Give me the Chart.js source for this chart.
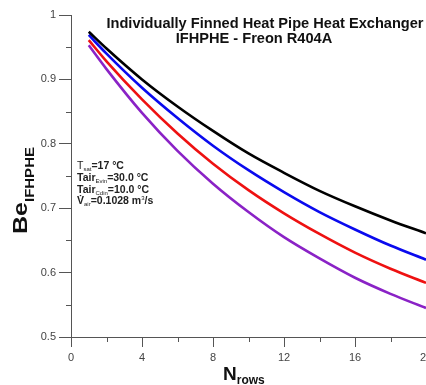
<!DOCTYPE html>
<html>
<head>
<meta charset="utf-8">
<script src="https://cdn.jsdelivr.net/npm/chart.js@4.4.1/dist/chart.umd.min.js"></script>
<style>
  html, body { margin: 0; padding: 0; background: #fff; overflow: hidden; }
  #wrap { position: absolute; left: 0; top: 0; width: 426px; height: 385px; }
</style>
</head>
<body>
<div id="wrap"><canvas id="beChart" width="426" height="385"></canvas></div>
<script>
// N rows and Be values
const rows = [1, 2, 4, 6, 8, 10, 12, 14, 16, 18, 20];
const beBlack = [0.974, 0.948, 0.900, 0.858, 0.820, 0.785, 0.755, 0.727, 0.703, 0.681, 0.661];
const beBlue = [0.969, 0.940, 0.887, 0.840, 0.797, 0.759, 0.725, 0.694, 0.667, 0.642, 0.620];
const beRed = [0.961, 0.928, 0.869, 0.816, 0.769, 0.728, 0.692, 0.660, 0.631, 0.606, 0.584];
const bePurple = [0.953, 0.916, 0.848, 0.789, 0.738, 0.694, 0.655, 0.622, 0.592, 0.567, 0.545];

const xMinorTicks = [2, 6, 10, 14, 18];
const yMinorTicks = [0.55, 0.65, 0.75, 0.85, 0.95];

const titleLines = ["Individually Finned Heat Pipe Heat Exchanger", "IFHPHE - Freon R404A"];
const AXIS = "#555";
const FONT = "'Liberation Sans', Arial, sans-serif";

function pts(ys) {
  return rows.map((r, i) => ({x: r, y: ys[i]}));
}

function ds(ys, color) {
  return {data: pts(ys), borderColor: color, backgroundColor: color, borderWidth: 2.6,
    pointRadius: 0, fill: false, cubicInterpolationMode: "monotone"};
}

// draw a run of text pieces: [text, size, bold, dy]
function runs(ctx, x, y, parts) {
  parts.forEach(p => {
    ctx.font = (p[2] ? "bold " : "") + p[1] + "px " + FONT;
    ctx.fillText(p[0], x, y + (p[3] || 0));
    x += ctx.measureText(p[0]).width;
  });
}

const decor = {
  id: "decor",
  afterDraw(chart) {
    const ctx = chart.ctx;
    const xs = chart.scales.x, ys = chart.scales.y;
    const area = chart.chartArea;
    ctx.save();
    // minor ticks
    ctx.strokeStyle = AXIS;
    ctx.lineWidth = 1;
    ctx.beginPath();
    xMinorTicks.forEach(v => {
      const px = Math.round(xs.getPixelForValue(v)) + 0.5;
      ctx.moveTo(px, area.bottom);
      ctx.lineTo(px, area.bottom + 5);
    });
    yMinorTicks.forEach(v => {
      const py = Math.round(ys.getPixelForValue(v)) + 0.5;
      ctx.moveTo(area.left - 5, py);
      ctx.lineTo(area.left, py);
    });
    ctx.stroke();

    // title inside plot
    ctx.fillStyle = "#111";
    ctx.textAlign = "center";
    ctx.textBaseline = "alphabetic";
    ctx.font = "bold 14.6px " + FONT;
    ctx.fillText(titleLines[0], 265, 28);
    ctx.fillText(titleLines[1], 254, 42.5);

    // conditions block
    ctx.textAlign = "left";
    ctx.fillStyle = "#222";
    runs(ctx, 77, 169, [["T", 10.5, false], ["sat", 6, false, 2], ["=17 °C", 10.5, true]]);
    runs(ctx, 77, 180.5, [["Tair", 10.5, true], ["Evin", 6, false, 2], ["=30.0 °C", 10.5, true]]);
    runs(ctx, 77, 193, [["Tair", 10.5, true], ["Cdin", 6, false, 2], ["=10.0 °C", 10.5, true]]);
    runs(ctx, 77, 204, [["V\u0307", 10.5, true], ["air", 6, false, 2], ["=0.1028 m", 10.5, true], ["3", 6, false, -4], ["/s", 10.5, true]]);

    // axis titles
    ctx.fillStyle = "#111";
    runs(ctx, 223, 380, [["N", 19, true], ["rows", 12, true, 4]]);
    ctx.translate(27, 234);
    ctx.rotate(-Math.PI / 2);
    ctx.scale(1.25, 1);
    runs(ctx, 0, 0, [["Be", 20, true], ["IFHPHE", 12, true, 7]]);
    ctx.restore();
  }
};

new Chart(document.getElementById("beChart"), {
  type: "line",
  data: {
    datasets: [
      ds(beBlack, "#000000"),
      ds(beBlue, "#0a0aee"),
      ds(beRed, "#ee1111"),
      ds(bePurple, "#8a22c6")
    ]
  },
  options: {
    responsive: false,
    animation: false,
    layout: {padding: {top: 15, right: 0, left: 0, bottom: 0}},
    plugins: {legend: {display: false}, tooltip: {enabled: false}},
    scales: {
      x: {
        type: "linear", min: 0, max: 20,
        border: {color: AXIS, width: 1},
        grid: {drawOnChartArea: false, tickLength: 10, color: AXIS},
        ticks: {stepSize: 4, color: "#444", font: {family: FONT, size: 11}, padding: 4, maxRotation: 0},
        afterFit(s) { s.height = 48; s.paddingRight = 0; }
      },
      y: {
        min: 0.5, max: 1,
        border: {color: AXIS, width: 1},
        grid: {drawOnChartArea: false, tickLength: 12, color: AXIS},
        ticks: {stepSize: 0.1, color: "#444", font: {family: FONT, size: 11}, padding: 3,
          callback: v => String(Math.round(v * 10) / 10)},
        afterFit(s) { s.width = 71; }
      }
    }
  },
  plugins: [decor]
});
</script>
</body>
</html>
